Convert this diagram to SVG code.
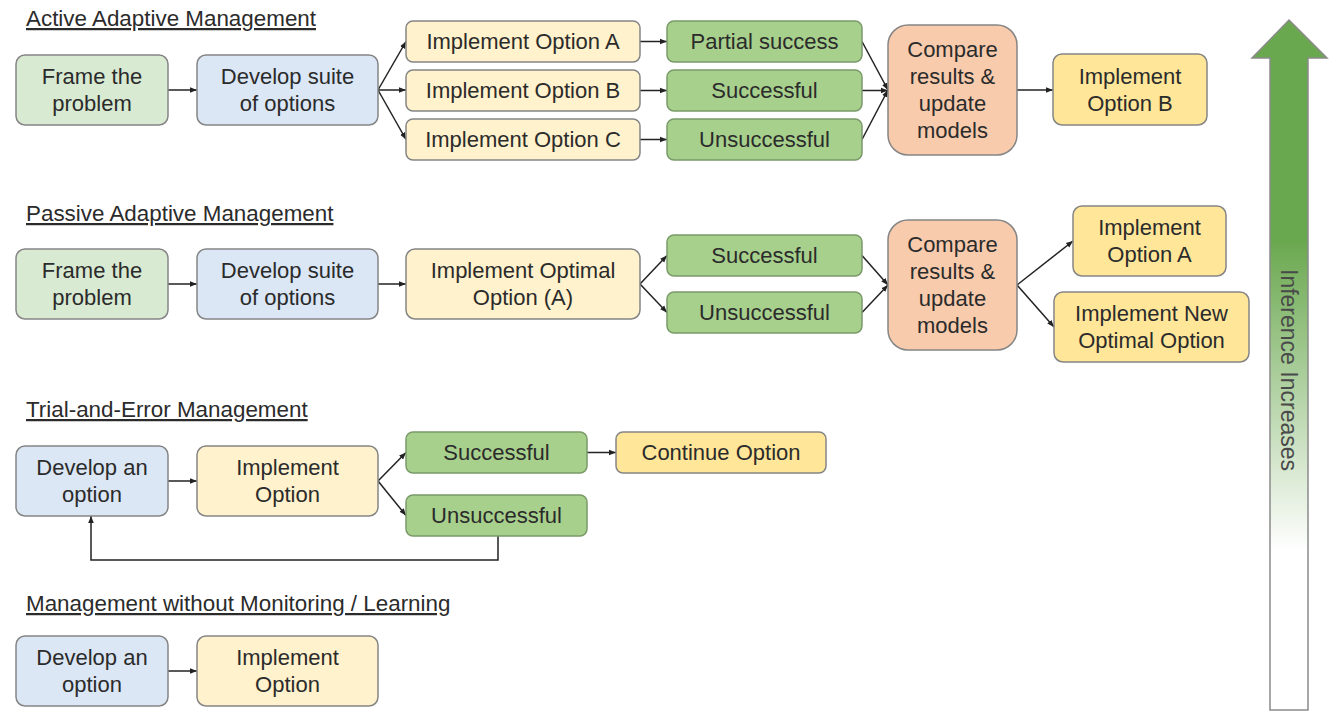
<svg xmlns="http://www.w3.org/2000/svg" width="1338" height="713" viewBox="0 0 1338 713">
<defs>
<style>
.box{stroke:#858585;stroke-width:1.5}
.lg{fill:#d9ead3}
.lb{fill:#dbe7f5}
.ly{fill:#fff2cc}
.gr{fill:#a8d08d;stroke:#7a9a69}
.or{fill:#f8cbad}
.yl{fill:#ffe699}
text{font-family:"Liberation Sans",Arial,sans-serif;font-size:22px;fill:#2b2b2b}
.t{text-anchor:middle}
.title{text-decoration:underline;font-size:22.4px}
.c{fill:none;stroke:#222;stroke-width:1.5;marker-end:url(#ah)}
.inf{font-size:23px;fill:#4a4a4a}
</style>
<marker id="ah" viewBox="0 0 10 10" refX="10" refY="5" markerWidth="7" markerHeight="7" markerUnits="userSpaceOnUse" orient="auto">
<path d="M0,1 L10,5 L0,9 z" fill="#222"/>
</marker>
<linearGradient id="inf" gradientUnits="userSpaceOnUse" x1="0" y1="20" x2="0" y2="710">
<stop offset="0" stop-color="#6aa84f"/>
<stop offset="0.32" stop-color="#6aa84f"/>
<stop offset="0.77" stop-color="#ffffff"/>
<stop offset="1" stop-color="#ffffff"/>
</linearGradient>
</defs>
<rect width="1338" height="713" fill="#ffffff"/>

<g id="titles">
<text class="title" x="26" y="26">Active Adaptive Management</text>
<text class="title" x="26" y="221">Passive Adaptive Management</text>
<text class="title" x="26" y="417">Trial-and-Error Management</text>
<text class="title" x="26" y="611">Management without Monitoring / Learning</text>
</g>

<g id="connectors">
<path class="c" d="M168,90 H197"/>
<path class="c" d="M378,90 L406,41.5"/>
<path class="c" d="M378,90 H406"/>
<path class="c" d="M378,90 L406,139.5"/>
<path class="c" d="M640,41.5 H667"/>
<path class="c" d="M640,90.5 H667"/>
<path class="c" d="M640,139.5 H667"/>
<path class="c" d="M862,41.5 L888,90"/>
<path class="c" d="M862,90.5 H888"/>
<path class="c" d="M862,139.5 L888,90"/>
<path class="c" d="M1017,90 H1053"/>
<path class="c" d="M168,284 H197"/>
<path class="c" d="M378,284 H406"/>
<path class="c" d="M640,284 L667,255.5"/>
<path class="c" d="M640,284 L667,312.5"/>
<path class="c" d="M862,255.5 L888,285"/>
<path class="c" d="M862,312.5 L888,285"/>
<path class="c" d="M1017,285 L1073,241"/>
<path class="c" d="M1017,285 L1054,327"/>
<path class="c" d="M168,481 H197"/>
<path class="c" d="M378,481 L406,452.5"/>
<path class="c" d="M378,481 L406,515.5"/>
<path class="c" d="M587,452.5 H616"/>
<path class="c" d="M498,536 V560 H91 V516"/>
<path class="c" d="M168,671 H197"/>
</g>

<g id="n1a"><rect class="box lg" x="16" y="55" width="152" height="70" rx="9"/><text class="t" x="92" y="84">Frame the</text><text class="t" x="92" y="111">problem</text></g>
<g id="n1b"><rect class="box lb" x="197" y="55" width="181" height="70" rx="9"/><text class="t" x="287.5" y="84">Develop suite</text><text class="t" x="287.5" y="111">of options</text></g>
<g id="n1c"><rect class="box ly" x="406" y="21" width="234" height="41" rx="7"/><text class="t" x="523" y="49">Implement Option A</text></g>
<g id="n1d"><rect class="box ly" x="406" y="70" width="234" height="41" rx="7"/><text class="t" x="523" y="98">Implement Option B</text></g>
<g id="n1e"><rect class="box ly" x="406" y="119" width="234" height="41" rx="7"/><text class="t" x="523" y="147">Implement Option C</text></g>
<g id="n1f"><rect class="box gr" x="667" y="21" width="195" height="41" rx="7"/><text class="t" x="764.5" y="49">Partial success</text></g>
<g id="n1g"><rect class="box gr" x="667" y="70" width="195" height="41" rx="7"/><text class="t" x="764.5" y="98">Successful</text></g>
<g id="n1h"><rect class="box gr" x="667" y="119" width="195" height="41" rx="7"/><text class="t" x="764.5" y="147">Unsuccessful</text></g>
<g id="n1i"><rect class="box or" x="888" y="25" width="129" height="130" rx="20"/><text class="t" x="952.5" y="57">Compare</text><text class="t" x="952.5" y="84">results &amp;</text><text class="t" x="952.5" y="111">update</text><text class="t" x="952.5" y="138">models</text></g>
<g id="n1j"><rect class="box yl" x="1053" y="54" width="154" height="71" rx="9"/><text class="t" x="1130" y="83.5">Implement</text><text class="t" x="1130" y="110.5">Option B</text></g>

<g id="n2a"><rect class="box lg" x="16" y="249" width="152" height="70" rx="9"/><text class="t" x="92" y="278">Frame the</text><text class="t" x="92" y="305">problem</text></g>
<g id="n2b"><rect class="box lb" x="197" y="249" width="181" height="70" rx="9"/><text class="t" x="287.5" y="278">Develop suite</text><text class="t" x="287.5" y="305">of options</text></g>
<g id="n2c"><rect class="box ly" x="406" y="249" width="234" height="70" rx="9"/><text class="t" x="523" y="278">Implement Optimal</text><text class="t" x="523" y="305">Option (A)</text></g>
<g id="n2d"><rect class="box gr" x="667" y="235" width="195" height="41" rx="7"/><text class="t" x="764.5" y="263">Successful</text></g>
<g id="n2e"><rect class="box gr" x="667" y="292" width="195" height="41" rx="7"/><text class="t" x="764.5" y="320">Unsuccessful</text></g>
<g id="n2f"><rect class="box or" x="888" y="220" width="129" height="130" rx="20"/><text class="t" x="952.5" y="252">Compare</text><text class="t" x="952.5" y="279">results &amp;</text><text class="t" x="952.5" y="306">update</text><text class="t" x="952.5" y="333">models</text></g>
<g id="n2g"><rect class="box yl" x="1073" y="206" width="153" height="70" rx="9"/><text class="t" x="1149.5" y="235">Implement</text><text class="t" x="1149.5" y="262">Option A</text></g>
<g id="n2h"><rect class="box yl" x="1054" y="292" width="195" height="70" rx="9"/><text class="t" x="1151.5" y="321">Implement New</text><text class="t" x="1151.5" y="348">Optimal Option</text></g>

<g id="n3a"><rect class="box lb" x="16" y="446" width="152" height="70" rx="9"/><text class="t" x="92" y="475">Develop an</text><text class="t" x="92" y="502">option</text></g>
<g id="n3b"><rect class="box ly" x="197" y="446" width="181" height="70" rx="9"/><text class="t" x="287.5" y="475">Implement</text><text class="t" x="287.5" y="502">Option</text></g>
<g id="n3c"><rect class="box gr" x="406" y="432" width="181" height="41" rx="7"/><text class="t" x="496.5" y="460">Successful</text></g>
<g id="n3d"><rect class="box gr" x="406" y="495" width="181" height="41" rx="7"/><text class="t" x="496.5" y="523">Unsuccessful</text></g>
<g id="n3e"><rect class="box yl" x="616" y="432" width="210" height="41" rx="7"/><text class="t" x="721" y="460">Continue Option</text></g>

<g id="n4a"><rect class="box lb" x="16" y="636" width="152" height="70" rx="9"/><text class="t" x="92" y="665">Develop an</text><text class="t" x="92" y="692">option</text></g>
<g id="n4b"><rect class="box ly" x="197" y="636" width="181" height="70" rx="9"/><text class="t" x="287.5" y="665">Implement</text><text class="t" x="287.5" y="692">Option</text></g>

<g id="inference">
<polygon points="1289,20 1327,58 1308,58 1308,710 1270,710 1270,58 1252,58" fill="url(#inf)" stroke="#8a8a8a" stroke-width="1.5"/>
<text class="t inf" transform="translate(1281,370) rotate(90)">Inference Increases</text>
</g>
</svg>
